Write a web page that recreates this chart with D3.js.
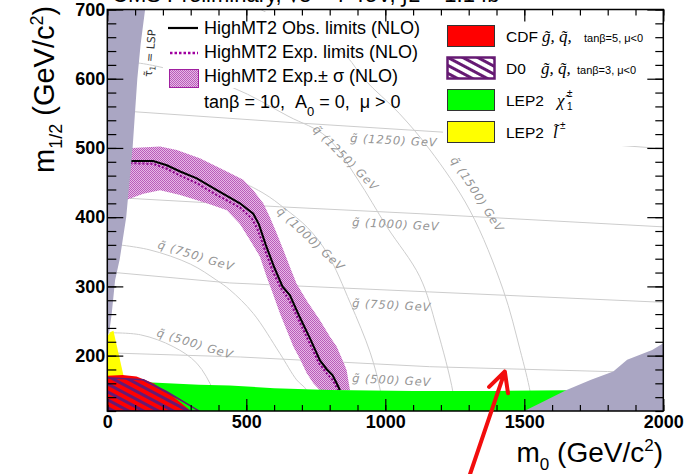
<!DOCTYPE html>
<html><head><meta charset="utf-8">
<script src="https://cdn.jsdelivr.net/npm/d3@7"></script>
<style>
body{margin:0;background:#fff;}
svg{display:block;font-family:"Liberation Sans",Arial,sans-serif;}
</style></head><body>
<svg id="c" width="686" height="474"></svg>
<script>
// ---------- data ----------
const xMajorTicks = [0, 500, 1000, 1500, 2000];
const yMajorTicks = [200, 300, 400, 500, 600, 700];
const xMinorTicks = d3.range(0, 2001, 100);
const yMinorTicks = d3.range(120, 701, 20);

// observed / expected limits (m0, m1/2)
const obsLimit = [[40,481],[88,481],[165,481],[214,475],[262,466],[322,456],[394,439],[477,420],[525,405],[545,390],[570,360],[600,328],[630,300],[657,287],[693,255],[729,225],[765,193],[790,180],[810,172],[825,160],[837,150]];
const expLimit = [[40,478],[88,478],[165,477],[214,470],[262,460],[322,449],[394,432],[477,414],[520,398],[540,383],[565,355],[595,322],[625,297],[655,280],[690,250],[725,220],[760,190],[790,174],[812,164],[830,150]];
const bandUpper = [[40,500],[88,500],[190,502],[250,497],[333,485],[430,466],[489,454],[525,439],[561,420],[585,400],[609,377],[633,353],[657,328],[681,304],[720,278],[765,251],[800,228],[825,213],[850,190],[861,179],[873,150]];
const bandLower = [[765,150],[741,160],[717,175],[693,195],[669,213],[645,237],[621,261],[597,288],[573,314],[549,343],[513,367],[477,390],[430,410],[358,420],[262,432],[190,439],[130,434],[70,425],[40,422]];

// excluded regions
const stauLSP = [[0,700],[136,700],[120,650],[108,600],[91,500],[68,400],[45,340],[28,309],[16,261],[8,237],[0,225]];
const noEWSB = [[1500,120],[1560,132],[1650,150],[1740,165],[1820,177],[1870,194],[1960,208],[2000,218],[2000,120]];
const lep2Chargino = [[0,120],[0,163],[142,161.5],[330,158],[440,157],[600,153],[800,150.5],[1100,149],[1400,149],[1655,150],[1700,120]];
const lep2Slepton = [[0,166],[0,228],[12,234],[22,236],[60,168]];
const cdfRegion = [[0,120],[0,171],[55,172],[105,170],[165,160],[237,141],[300,120]];
const d0Region = [[0,120],[0,168],[130,165],[214,148],[330,120]];

// iso-mass contours
const gluino500 = [[0,204],[480,198],[1160,184],[1800,177],[2000,174]];
const gluino750 = [[0,321],[440,305],[1160,292],[2000,277]];
const gluino1000 = [[0,429],[620,415],[1125,405],[2000,386]];
const gluino1250 = [[0,555],[650,537],[1200,523],[2000,499]];
const squark500 = [[0,233],[120,230],[237,213],[322,189],[381,150],[405,120]];
const squark750 = [[0,362],[150,353],[300,332],[393,309],[441,295],[525,261],[621,203],[681,165],[717,150],[735,120]];
const squark1000 = [[0,495],[200,488],[400,465],[560,435],[640,412],[720,385],[791,348],[874,276],[946,204],[982,150],[992,120]];
const squark1250 = [[0,627],[107,623],[200,616],[452,587],[650,546],[789,516],[900,455],[1006,386],[1124,314],[1185,240],[1243,148],[1250,120]];
const squark1500 = [[552,700],[700,668],[848,637],[927,598],[1050,550],[1161,497],[1304,410],[1424,295],[1485,208],[1521,148],[1530,120]];

const contourLabels = [
  {t:"g̃ (1250) GeV", m0:873, m12:508.6, a:3},
  {t:"g̃ (1000) GeV", m0:880, m12:387.3, a:3},
  {t:"g̃ (750) GeV",  m0:880, m12:270.2, a:3},
  {t:"g̃ (500) GeV",  m0:880, m12:161.9, a:3},
  {t:"q̃ (1250) GeV", m0:736, m12:526, a:45},
  {t:"q̃ (1000) GeV", m0:607, m12:407.5, a:43},
  {t:"q̃ (1500) GeV", m0:1233, m12:482.6, a:57},
  {t:"q̃ (750) GeV",  m0:179, m12:355.5, a:17},
  {t:"q̃ (500) GeV",  m0:175, m12:228.4, a:17}
];
const arrowTip = [1430, 177];
const arrowTail = [1305, 29];

// ---------- drawing ----------
const svg = d3.select("#c");
const x = d3.scaleLinear().domain([0, 2000]).range([107.3, 663.3]);
const y = d3.scaleLinear().domain([120, 700]).range([411, 9.5]);
const line = d3.line().x(d => x(d[0])).y(d => y(d[1]));
const smooth = d3.line().x(d => x(d[0])).y(d => y(d[1])).curve(d3.curveCatmullRom);

const defs = svg.append("defs");
defs.append("clipPath").attr("id","plot").append("rect")
  .attr("x", x(0)).attr("y", y(700)).attr("width", x(2000)-x(0)).attr("height", y(120)-y(700));
const bp = defs.append("pattern").attr("id","bandPat").attr("patternUnits","userSpaceOnUse").attr("width",2).attr("height",2);
bp.append("rect").attr("width",2).attr("height",2).attr("fill","#e6b8e6");
bp.append("rect").attr("width",1).attr("height",1).attr("fill","#ba5cba");
bp.append("rect").attr("x",1).attr("y",1).attr("width",1).attr("height",1).attr("fill","#ba5cba");
const hp = defs.append("pattern").attr("id","hatch").attr("patternUnits","userSpaceOnUse")
  .attr("width",7).attr("height",7).attr("patternTransform","rotate(28)");
hp.append("line").attr("x1",0).attr("x2",7).attr("y1",1.5).attr("y2",1.5).attr("stroke","#661a73").attr("stroke-width",3);

svg.append("rect").attr("width",686).attr("height",474).attr("fill","#fff");

const g = svg.append("g").attr("clip-path","url(#plot)");

// contours
const contourColor = "#cdcdcd";
[gluino500,gluino750,gluino1000,gluino1250].forEach(c =>
  g.append("path").attr("d", line(c)).attr("fill","none").attr("stroke",contourColor).attr("stroke-width",1));
[squark500,squark750,squark1000,squark1250,squark1500].forEach(c =>
  g.append("path").attr("d", smooth(c)).attr("fill","none").attr("stroke",contourColor).attr("stroke-width",1));

// band
g.append("path").attr("d", line(bandUpper.concat(bandLower)) + "Z").attr("fill","url(#bandPat)");
g.append("path").attr("d", line(expLimit)).attr("fill","none").attr("stroke","#8a008a").attr("stroke-width",2).attr("stroke-dasharray","2,2");
g.append("path").attr("d", line(obsLimit)).attr("fill","none").attr("stroke","#000").attr("stroke-width",2);

// regions
g.append("path").attr("d", line(lep2Chargino)+"Z").attr("fill","#00ff00");
g.append("path").attr("d", line(lep2Slepton)+"Z").attr("fill","#ffff00");
g.append("path").attr("d", line(cdfRegion)+"Z").attr("fill","#ff0000");
g.append("path").attr("d", line(d0Region)+"Z").attr("fill","url(#hatch)").attr("stroke","#661a73").attr("stroke-width",1.5);
g.append("path").attr("d", line(stauLSP)+"Z").attr("fill","#aaa6c3");
g.append("path").attr("d", line(noEWSB)+"Z").attr("fill","#aaa6c3");

// contour labels
contourLabels.forEach(l => {
  svg.append("text").attr("transform", `translate(${x(l.m0)},${y(l.m12)}) rotate(${l.a})`)
    .attr("font-family","DejaVu Sans").attr("font-style","italic").attr("font-size",11.5)
    .attr("letter-spacing",0.9).attr("fill","#959595").text(l.t);
});

// LSP label
const lsp = svg.append("text").attr("transform", `translate(${x(160)},${y(602)}) rotate(-85)`)
  .attr("font-family","DejaVu Sans").attr("font-size",11).attr("fill","#333");
lsp.append("tspan").text("τ̃");
lsp.append("tspan").attr("dy",3).attr("font-size",8).text("1");
lsp.append("tspan").attr("dy",-3).text(" = LSP");

// legend backgrounds
svg.append("rect").attr("x",163).attr("y",12).attr("width",177).attr("height",76).attr("fill","#fff");
svg.append("rect").attr("x",443).attr("y",15).attr("width",194).attr("height",131).attr("fill","#fff");

// left legend
const lg = svg.append("g").attr("font-size",18).attr("fill","#000");
lg.append("line").attr("x1",168).attr("x2",198).attr("y1",28).attr("y2",28).attr("stroke","#000").attr("stroke-width",2.2);
lg.append("text").attr("x",204).attr("y",34).text("HighMT2 Obs. limits (NLO)");
lg.append("line").attr("x1",170).attr("x2",198).attr("y1",53).attr("y2",53).attr("stroke","#a000a0").attr("stroke-width",2.5).attr("stroke-dasharray","2.5,2");
lg.append("text").attr("x",204).attr("y",58).text("HighMT2 Exp. limits (NLO)");
lg.append("rect").attr("x",169.5).attr("y",69.5).attr("width",29).attr("height",18).attr("fill","url(#bandPat)").attr("stroke","#a020a0").attr("stroke-width",1);
lg.append("text").attr("x",204).attr("y",82).text("HighMT2 Exp.± σ (NLO)");
const tb = lg.append("text").attr("x",204).attr("y",108).attr("xml:space","preserve");
tb.append("tspan").text("tanβ = 10,  A");
tb.append("tspan").attr("dy",8).attr("font-size",13).text("0");
tb.append("tspan").attr("dy",-8).text(" = 0,  μ > 0");

// right legend
const rl = svg.append("g");
const boxes = [
  {y:25, fill:"#ff0000", stroke:"#333", sw:1},
  {y:57, fill:"url(#hatch)", stroke:"#661a73", sw:2.5},
  {y:89, fill:"#00ff00", stroke:"#333", sw:1},
  {y:121, fill:"#ffff00", stroke:"#333", sw:1}
];
boxes.forEach(b => rl.append("rect").attr("x",447.5).attr("y",b.y+0.5).attr("width",47).attr("height",21)
  .attr("fill",b.fill).attr("stroke",b.stroke).attr("stroke-width",b.sw));
const rowText = (yy, name) => rl.append("text").attr("x",506).attr("y",yy).attr("font-size",15.5).text(name);
rowText(42,"CDF"); rowText(74,"D0"); rowText(106,"LEP2"); rowText(138,"LEP2");
const serif = (xx, yy, t) => rl.append("text").attr("x",xx).attr("y",yy).attr("font-family","Liberation Serif")
  .attr("font-style","italic").attr("font-size",17).text(t);
serif(542,42,"g̃, q̃,"); serif(541,74,"g̃, q̃,");
rl.append("text").attr("x",584).attr("y",42).attr("font-size",11).text("tanβ=5, μ<0");
rl.append("text").attr("x",577).attr("y",74).attr("font-size",11).text("tanβ=3, μ<0");
serif(557,106,"χ̃");
rl.append("text").attr("x",567).attr("y",97).attr("font-size",10).text("±");
rl.append("text").attr("x",567).attr("y",110).attr("font-size",10).text("1");
serif(553,138,"l̃");
rl.append("text").attr("x",560).attr("y",129).attr("font-size",10).text("±");

// axes
const axG = svg.append("g");
const bottomMinor = d3.axisBottom(x).tickValues(xMinorTicks).tickSize(-6).tickFormat("");
const bottomMajor = d3.axisBottom(x).tickValues(xMajorTicks).tickSize(-12).tickPadding(4).tickFormat(d3.format("d"));
const topMinor = d3.axisTop(x).tickValues(xMinorTicks).tickSize(-6).tickFormat("");
const topMajor = d3.axisTop(x).tickValues(xMajorTicks).tickSize(-12).tickFormat("");
const leftMinor = d3.axisLeft(y).tickValues(yMinorTicks).tickSize(-9).tickFormat("");
const leftMajor = d3.axisLeft(y).tickValues(yMajorTicks).tickSize(-16).tickPadding(2).tickFormat(d3.format("d"));
const rightMinor = d3.axisRight(y).tickValues(yMinorTicks).tickSize(-8).tickFormat("");
const rightMajor = d3.axisRight(y).tickValues(yMajorTicks).tickSize(-16).tickFormat("");
const place = (ax, tr) => {
  const a = axG.append("g").attr("transform", tr).call(ax);
  a.select(".domain").remove();
  a.selectAll("line").attr("stroke","#000").attr("stroke-width",1.2);
  a.selectAll("text").attr("font-family","Liberation Sans").attr("font-weight","bold").attr("font-size",18).attr("fill","#000");
  return a;
};
place(bottomMinor, `translate(0,${y(120)})`);
place(bottomMajor, `translate(0,${y(120)})`);
place(topMinor, `translate(0,${y(700)})`);
place(topMajor, `translate(0,${y(700)})`);
place(leftMinor, `translate(${x(0)},0)`);
place(leftMajor, `translate(${x(0)},0)`);
place(rightMinor, `translate(${x(2000)},0)`);
place(rightMajor, `translate(${x(2000)},0)`);
axG.append("rect").attr("x",x(0)).attr("y",y(700)).attr("width",x(2000)-x(0)).attr("height",y(120)-y(700))
  .attr("fill","none").attr("stroke","#000").attr("stroke-width",1.5);

// axis titles
const xt = svg.append("text").attr("x",663).attr("y",462).attr("text-anchor","end").attr("font-size",28);
xt.append("tspan").text("m");
xt.append("tspan").attr("dy",8).attr("font-size",17).text("0");
xt.append("tspan").attr("dy",-8).text(" (GeV/c");
xt.append("tspan").attr("dy",-11).attr("font-size",17).text("2");
xt.append("tspan").attr("dy",11).text(")");

const yt = svg.append("text").attr("transform","translate(54,173) rotate(-90)").attr("font-size",29);
yt.append("tspan").text("m");
yt.append("tspan").attr("dy",8).attr("font-size",18).text("1/2");
yt.append("tspan").attr("dy",-8).text(" (GeV/c");
yt.append("tspan").attr("dy",-11).attr("font-size",18).text("2");
yt.append("tspan").attr("dy",11).text(")");

// title (cut at top, as in the reference)
svg.append("text").attr("x",112).attr("y",2).attr("font-size",22).text("CMS Preliminary, √s = 7 TeV, ∫L = 1.1 fb⁻¹");

// red arrow
const tip = [x(arrowTip[0]), y(arrowTip[1])];
const tail = [x(arrowTail[0]), y(arrowTail[1])];
const ang = Math.atan2(tail[1]-tip[1], tail[0]-tip[0]);
const wl = 22, wa = 27*Math.PI/180;
const w1 = [tip[0]+wl*Math.cos(ang+wa), tip[1]+wl*Math.sin(ang+wa)];
const w2 = [tip[0]+wl*Math.cos(ang-wa), tip[1]+wl*Math.sin(ang-wa)];
svg.append("path").attr("d", `M${tail}L${tip}M${w1}L${tip}L${w2}`)
  .attr("fill","none").attr("stroke","#f20d0d").attr("stroke-width",4).attr("stroke-linecap","round").attr("stroke-linejoin","round");
</script>
</body></html>
